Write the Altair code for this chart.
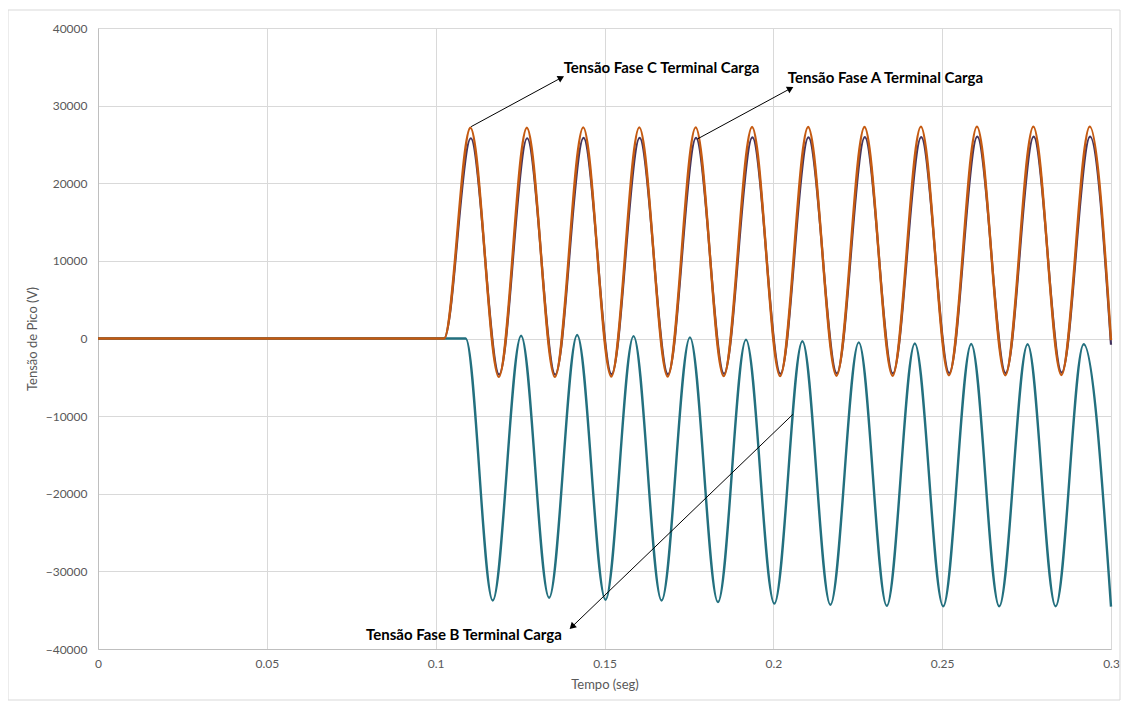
import altair as alt
import pandas as pd

# ---- data ----
# Phase C (orange): flat at 0, then peaks / troughs
c_t = [0.0, 0.1025, 0.1103, 0.1187, 0.1270, 0.1353, 0.1437, 0.1520, 0.1603, 0.1687,
       0.1770, 0.1853, 0.1937, 0.2020, 0.2103, 0.2187, 0.2270, 0.2353, 0.2437, 0.2520,
       0.2603, 0.2687, 0.2770, 0.2853, 0.2937, 0.3000]
c_v = [0, 0, 27150, -4950, 27150, -4950, 27200, -4900, 27200, -4900,
       27200, -4850, 27250, -4850, 27250, -4800, 27250, -4800, 27300, -4750,
       27300, -4750, 27300, -4700, 27300, -200]

# Phase A (dark purple)
a_t = [0.0, 0.1025, 0.1104, 0.1188, 0.1271, 0.1354, 0.1438, 0.1521, 0.1604, 0.1688,
       0.1771, 0.1854, 0.1938, 0.2021, 0.2104, 0.2188, 0.2271, 0.2354, 0.2438, 0.2521,
       0.2604, 0.2688, 0.2771, 0.2854, 0.2938, 0.3000]
a_v = [0, 0, 25800, -4650, 25800, -4650, 25850, -4600, 25850, -4600,
       25850, -4550, 25900, -4550, 25900, -4500, 25950, -4500, 25950, -4450,
       26000, -4450, 26000, -4400, 26000, -800]

# Phase B (teal)
b_t = [0.0, 0.1089, 0.1169, 0.1253, 0.1336, 0.1419, 0.1503, 0.1586, 0.1669, 0.1753,
       0.1836, 0.1919, 0.2003, 0.2086, 0.2169, 0.2253, 0.2336, 0.2419, 0.2503, 0.2586,
       0.2669, 0.2753, 0.2836, 0.2919, 0.3000]
b_v = [0, 0, -33750, 350, -33400, 450, -33650, 300, -33750, 150,
       -33950, -150, -34150, -350, -34300, -500, -34450, -650, -34500, -700,
       -34500, -750, -34500, -750, -34550]

series_names = ["Tensão Fase A Terminal Carga", "Tensão Fase B Terminal Carga",
                "Tensão Fase C Terminal Carga"]
series_colors = ["#44355e", "#23707f", "#c55a11"]

# annotations: arrow start (t, v), arrow tip (t, v), label anchor (t, v)
ann_text = ["Tensão Fase C Terminal Carga", "Tensão Fase A Terminal Carga",
            "Tensão Fase B Terminal Carga"]
ann_t0 = [0.1105, 0.1775, 0.2058]
ann_v0 = [27290, 25700, -9770]
ann_t1 = [0.1369, 0.2048, 0.1406]
ann_v1 = [33520, 32140, -37040]
ann_angle = [61.6, 61.7, 226.2]
lab_t = [0.1379, 0.2043, 0.0794]
lab_v = [34850, 33560, -38200]

x_ticks = [0, 0.05, 0.1, 0.15, 0.2, 0.25, 0.3]
y_ticks = [-40000, -30000, -20000, -10000, 0, 10000, 20000, 30000, 40000]

W, H = 1013, 621
FONT = "Lato"

xscale = alt.Scale(domain=[0, 0.3], nice=False, zero=False)
yscale = alt.Scale(domain=[-40000, 40000], nice=False)

xaxis = alt.Axis(values=x_ticks, format="~g", title="Tempo (seg)", grid=True,
                 gridColor="#d9d9d9", domainColor="#bfbfbf", ticks=False,
                 labelPadding=9, labelFontSize=12, labelColor="#595959",
                 labelFont=FONT, titleFont=FONT, titleFontSize=13,
                 titleFontWeight="normal", titleColor="#595959", titlePadding=9,
                 labelFlush=False)
yaxis = alt.Axis(values=y_ticks, format="d", title="Tensão de Pico (V)", grid=True,
                 gridColor="#d9d9d9", domainColor="#bfbfbf", ticks=False,
                 labelPadding=11, labelFontSize=12, labelColor="#595959",
                 labelFont=FONT, titleFont=FONT, titleFontSize=13,
                 titleFontWeight="normal", titleColor="#595959", titlePadding=6,
                 labelFlush=False)


def X(field):
    return alt.X(field, type="quantitative", scale=xscale, axis=xaxis)


def Y(field):
    return alt.Y(field, type="quantitative", scale=yscale, axis=yaxis)


def line_layer(ts, vs, name, color, width):
    df = pd.DataFrame({"t": ts, "v": vs, "s": name})
    return alt.Chart(df).mark_line(
        interpolate="monotone", color=color, strokeWidth=width
    ).encode(x=X("t"), y=Y("v"))


border = alt.Chart(pd.DataFrame({"k": [0]})).mark_rect(
    fill=None, stroke="#d9d9d9", strokeWidth=1
).encode(x=alt.value(-90), x2=alt.value(W + 9), y=alt.value(-18), y2=alt.value(H + 51))

la = line_layer(a_t, a_v, series_names[0], series_colors[0], 2.2)
lb = line_layer(b_t, b_v, series_names[1], series_colors[1], 2.4)
lc = line_layer(c_t, c_v, series_names[2], series_colors[2], 2.4)

ann = pd.DataFrame({"text": ann_text, "t0": ann_t0, "v0": ann_v0, "t1": ann_t1,
                    "v1": ann_v1, "angle": ann_angle, "lt": lab_t, "lv": lab_v})

rules = alt.Chart(ann).mark_rule(color="black", strokeWidth=1).encode(
    x=X("t0"), y=Y("v0"), x2="t1:Q", y2="v1:Q")
heads = alt.Chart(ann).mark_point(shape="triangle", filled=True, color="black",
                                  size=55, opacity=1).encode(
    x=X("t1"), y=Y("v1"), angle=alt.Angle("angle:Q", scale=None))
labels = alt.Chart(ann).mark_text(align="left", baseline="middle", font=FONT,
                                  fontSize=15, fontWeight="bold", color="black").encode(
    x=X("lt"), y=Y("lv"), text="text:N")

chart = alt.layer(border, la, lb, lc, rules, heads, labels).properties(
    width=W, height=H,
    autosize=alt.AutoSizeParams(type="none"),
    padding={"left": 90, "top": 20, "right": 10, "bottom": 52},
    background="white",
).configure_view(stroke=None)

chart.save("out.html", embed_options={"renderer": "svg", "actions": False})
